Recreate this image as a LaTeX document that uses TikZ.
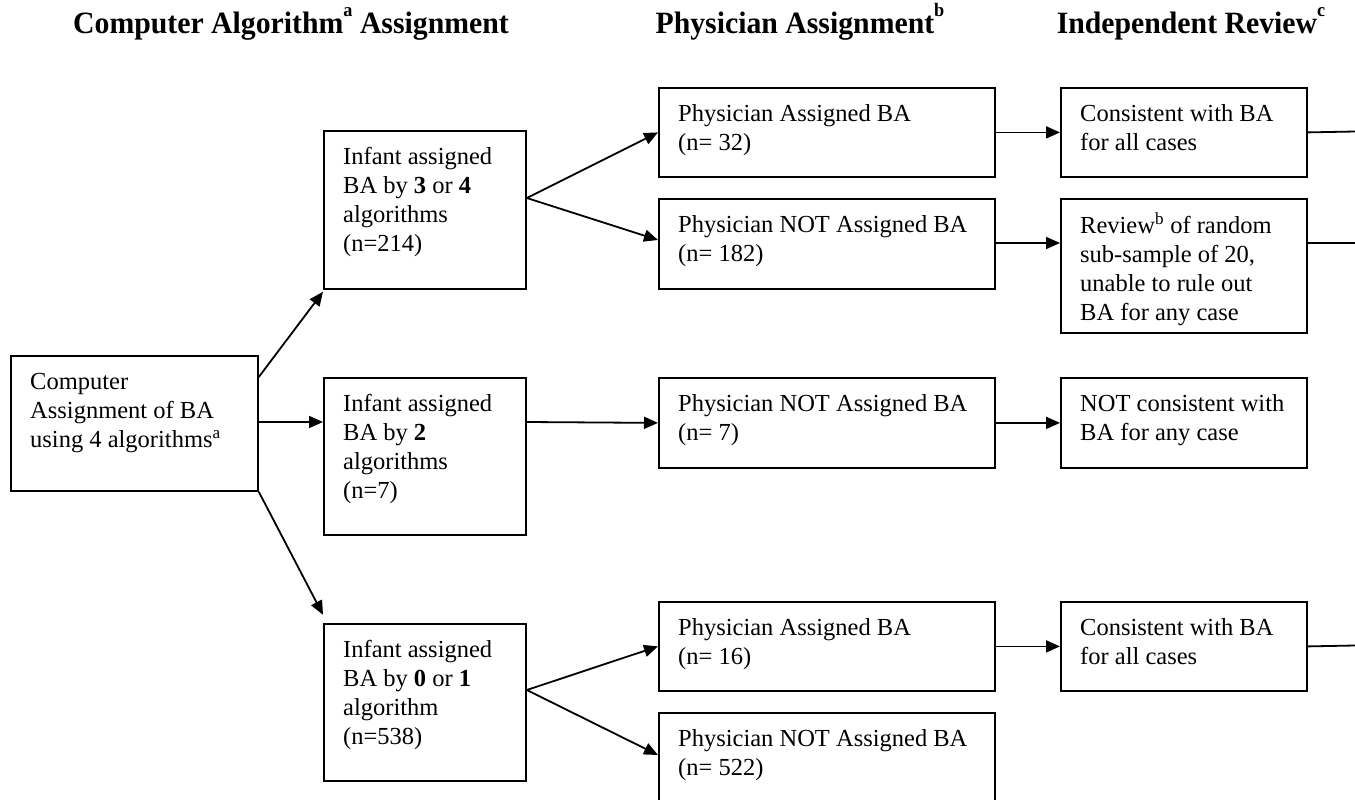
\documentclass[tikz,border=0pt]{standalone}
\usepackage{fontspec}
\setmainfont{Liberation Serif}
\usetikzlibrary{arrows.meta,calc}
\begin{document}
\begin{tikzpicture}[x=1pt,y=-1pt,
  box/.style={draw,line width=1.8pt,anchor=north west,inner sep=0pt},
  txt/.style={anchor=north west,inner sep=0pt,align=left,font=\fontsize{24.5}{29}\selectfont},
  head/.style={inner sep=0pt,anchor=base,font=\fontsize{31}{34}\selectfont\bfseries},
  arr/.style={line width=1.8pt,-{Triangle[length=14pt,width=12pt]}},
  ln/.style={line width=1.8pt}]
\useasboundingbox (0,0) rectangle (1355,800);
\newcommand\bx[6]{%
  \node[box,minimum width=#4pt,minimum height=#5pt] (#1) at (#2,#3) {};
  \node[txt] (#1t) at ($(#1.north west)+(20,14)$) {\strut #6};}
\newcommand\hsup[1]{\raisebox{0.55em}{\fontsize{19}{20}\selectfont #1}}
% headers
\node[head] (h1) at (291,34) {\scalebox{0.96}[1]{Computer Algorithm\hsup{a} Assignment}};
\node[head] (h2) at (800,34) {\scalebox{0.96}[1]{Physician Assignment\hsup{b}}};
\node[head] (h3) at (1191,34) {\scalebox{0.96}[1]{Independent Review\hsup{c}}};
% boxes
\bx{s}{10}{355}{247}{135}{Computer\\Assignment of BA\\using 4 algorithms\textsuperscript{a}}
\bx{a}{323}{130}{202}{158}{Infant assigned\\BA by \textbf{3} or \textbf{4}\\algorithms\\(n=214)}
\bx{b}{323}{377}{202}{157}{Infant assigned\\BA by \textbf{2}\\algorithms\\(n=7)}
\bx{c}{323}{623}{202}{157}{Infant assigned\\BA by \textbf{0} or \textbf{1}\\algorithm\\(n=538)}
\bx{p1}{658}{87}{336}{89}{Physician Assigned BA\\(n= 32)}
\bx{p2}{658}{198}{336}{90}{Physician NOT Assigned BA\\(n= 182)}
\bx{p3}{658}{377}{336}{90}{Physician NOT Assigned BA\\(n= 7)}
\bx{p4}{658}{601}{336}{89}{Physician Assigned BA\\(n= 16)}
\bx{p5}{658}{712}{336}{88}{Physician NOT Assigned BA\\(n= 522)}
\bx{r1}{1060}{87}{246}{89}{Consistent with BA\\for all cases}
\bx{r2}{1060}{198}{246}{134}{Review\textsuperscript{b} of random\\sub-sample of 20,\\unable to rule out\\BA for any case}
\bx{r3}{1060}{377}{246}{90}{NOT consistent with\\BA for any case}
\bx{r4}{1060}{601}{246}{89}{Consistent with BA\\for all cases}
% connectors
\draw[arr] ($(s.north east)+(0,22)$) -- ($(a.south west)+(0,2)$);
\draw[arr] ($(s.north east)+(0,67)$) -- ($(b.north west)+(0,45)$);
\draw[arr] (s.south east) -- ($(a.south west)+(0,325)$);
\draw[arr] ($(a.north east)+(0,68)$) -- (p1.west);
\draw[arr] ($(a.north east)+(0,68)$) -- ($(p2.north west)+(0,42)$);
\draw[arr] ($(b.north east)+(0,45)$) -- (p3.west);
\draw[arr] ($(c.north east)+(0,67)$) -- (p4.west);
\draw[arr] ($(c.north east)+(0,67)$) -- ($(p5.north west)+(0,43)$);
\draw[arr] (p1.east) -- (r1.west);
\draw[arr] ($(p2.north east)+(0,45)$) -- ($(r2.north west)+(0,45)$);
\draw[arr] (p3.east) -- (r3.west);
\draw[arr] (p4.east) -- (r4.west);
\coordinate (e1) at (1355,131.5);
\coordinate (e2) at (1355,243);
\coordinate (e4) at (1355,645.5);
\draw[ln] (r1.east) -- (e1);
\draw[ln] ($(r2.north west)+(246,45)$) -- (e2);
\draw[ln] (r4.east) -- (e4);
\end{tikzpicture}
\end{document}
